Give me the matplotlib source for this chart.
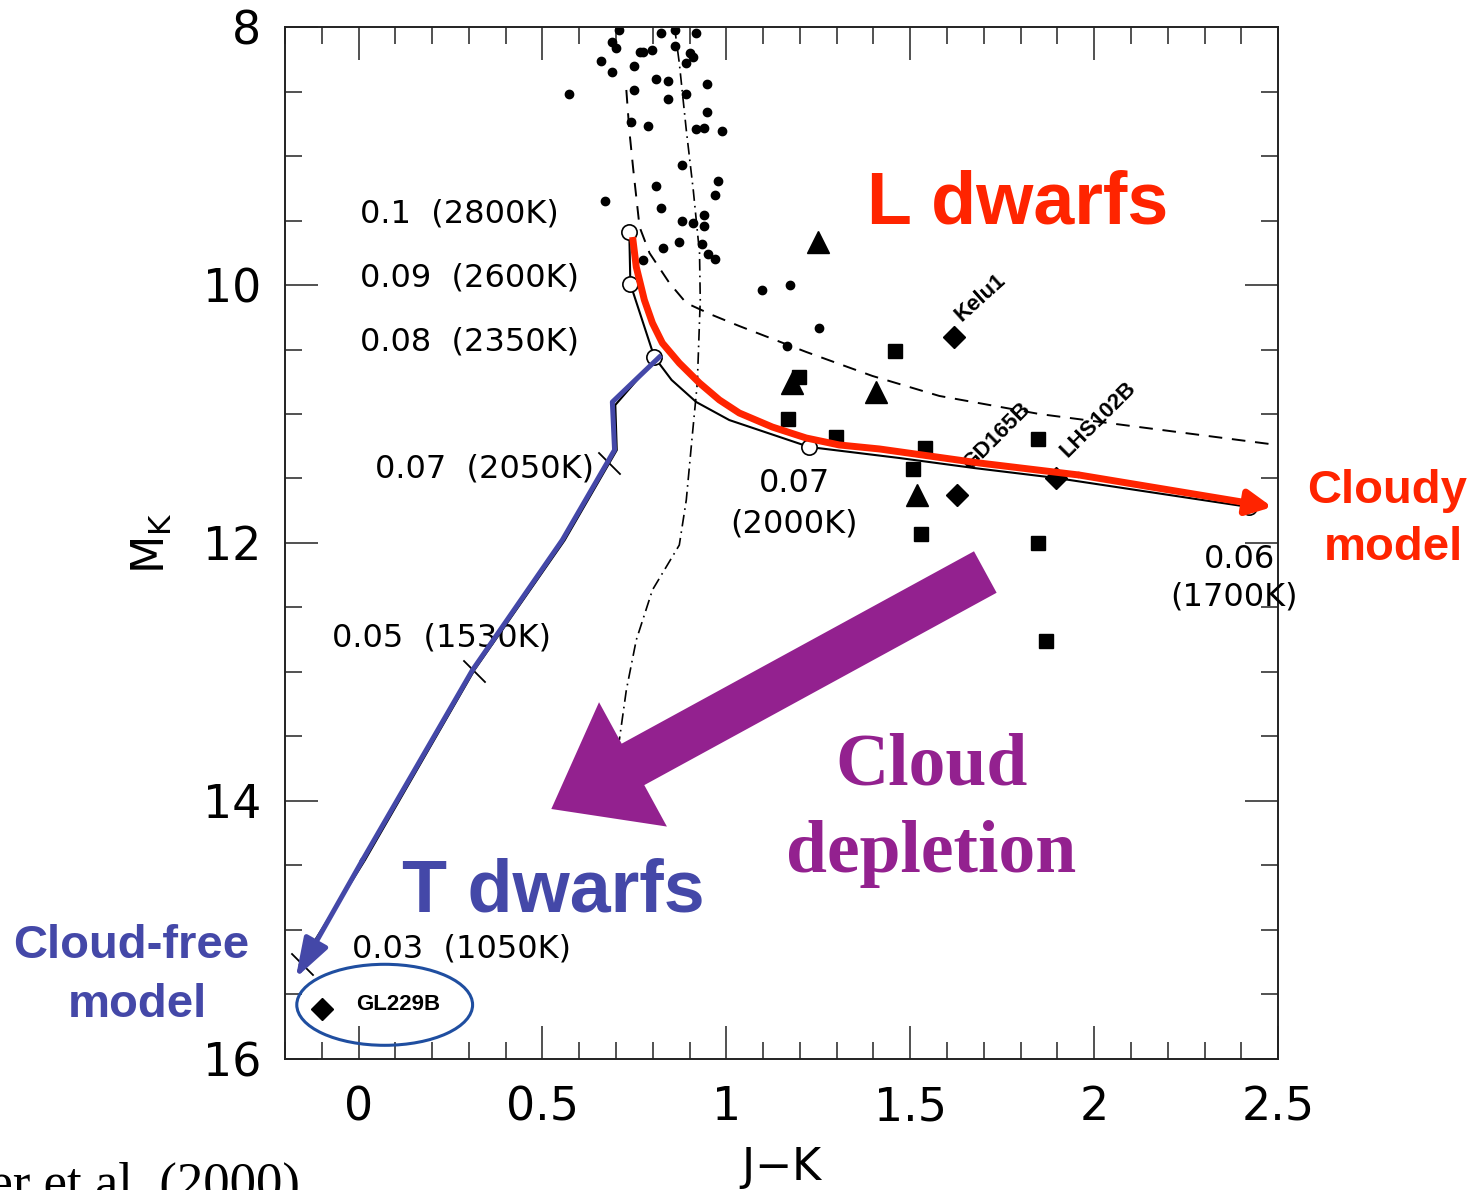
import matplotlib.pyplot as plt
from matplotlib.ticker import MultipleLocator
from matplotlib.patches import Ellipse, FancyArrowPatch

# field M / L dwarfs (small dots)
dot_jk = [0.709, 0.821, 0.859, 0.918, 0.690, 0.701, 0.764, 0.772, 0.799, 0.859,
          0.902, 0.910, 0.660, 0.750, 0.891, 0.690, 0.810, 0.840, 0.948, 0.571,
          0.750, 0.840, 0.891, 0.948, 0.742, 0.788, 0.918, 0.938, 0.989, 0.880,
          0.978, 0.810, 0.970, 0.671, 0.821, 0.880, 0.910, 0.938, 0.940, 0.829,
          0.870, 0.935, 0.772, 0.951, 0.970, 1.098, 1.174, 1.253, 1.166]
dot_mk = [8.02, 8.05, 8.02, 8.05, 8.12, 8.16, 8.19, 8.19, 8.18, 8.15,
          8.20, 8.23, 8.26, 8.30, 8.28, 8.35, 8.40, 8.42, 8.44, 8.52,
          8.49, 8.56, 8.52, 8.66, 8.74, 8.77, 8.79, 8.78, 8.81, 9.07,
          9.19, 9.23, 9.30, 9.35, 9.40, 9.50, 9.52, 9.46, 9.54, 9.71,
          9.67, 9.68, 9.81, 9.76, 9.80, 10.04, 10.00, 10.33, 10.47]

sq_jk = [1.198, 1.459, 1.168, 1.299, 1.541, 1.508, 1.530, 1.848, 1.848, 1.870]
sq_mk = [10.71, 10.51, 11.04, 11.18, 11.26, 11.43, 11.93, 11.19, 12.00, 12.76]

tri_jk = [1.250, 1.179, 1.408, 1.519]
tri_mk = [9.67, 10.76, 10.83, 11.63]

dia_jk = [1.620, 1.628, 1.897, -0.100]
dia_mk = [10.40, 11.63, 11.50, 15.61]

# dusty (cloudy) model track
dusty_jk = [0.736, 0.739, 0.804, 0.851, 0.918, 1.008, 1.226, 1.470, 1.674, 1.897, 2.421]
dusty_mk = [9.589, 9.992, 10.558, 10.736, 10.907, 11.047, 11.256, 11.341, 11.419, 11.496, 11.721]
circ_jk = [0.736, 0.739, 0.804, 1.226, 2.421]
circ_mk = [9.589, 9.992, 10.558, 11.256, 11.721]

# cond (cloud-free) model track
cond_jk = [0.808, 0.698, 0.702, 0.560, 0.316, 0.017, -0.160]
cond_mk = [10.57, 10.93, 11.28, 11.98, 12.98, 14.46, 15.27]
cross_jk = [0.682, 0.313, -0.155]
cross_mk = [11.38, 12.99, 15.26]

dash_jk = [0.728, 0.736, 0.747, 0.764, 0.791, 0.845, 0.891, 0.962, 1.035, 1.217,
           1.397, 1.579, 1.851, 2.122, 2.497]
dash_mk = [8.488, 8.798, 9.109, 9.550, 9.752, 9.984, 10.140, 10.233, 10.318, 10.519,
           10.705, 10.860, 11.000, 11.101, 11.240]

dd_jk = [0.859, 0.872, 0.891, 0.910, 0.927, 0.929, 0.921, 0.908, 0.891, 0.872,
         0.799, 0.755, 0.728, 0.709]
dd_mk = [8.000, 8.279, 8.798, 9.264, 9.752, 10.116, 10.760, 11.147, 11.667, 12.016,
         12.364, 12.752, 13.140, 13.527]

# overlay arrows
red_jk = [0.745, 0.755, 0.777, 0.799, 0.826, 0.872, 0.927, 0.981, 1.035, 1.125,
          1.217, 1.307, 1.416, 1.688, 1.959, 2.484]
red_mk = [9.628, 9.860, 10.116, 10.295, 10.450, 10.605, 10.760, 10.891, 10.992, 11.101,
          11.186, 11.240, 11.271, 11.380, 11.473, 11.721]
blue_jk = [0.818, 0.690, 0.696, 0.554, 0.310, 0.011, -0.171]
blue_mk = [10.558, 10.907, 11.279, 11.977, 12.984, 14.457, 15.372]
purple_tail = (1.704, 12.225)
purple_tip = (0.524, 14.062)

x_ticks = [0, 0.5, 1, 1.5, 2, 2.5]
x_labels = ['0', '0.5', '1', '1.5', '2', '2.5']
y_ticks = [8, 10, 12, 14, 16]
y_labels = ['8', '10', '12', '14', '16']

RED = '#FF2400'
BLUE = '#4448A8'
PURPLE = '#93218F'

plt.rcParams['font.family'] = ['DejaVu Sans']
fig = plt.figure(figsize=(14.76, 11.90), dpi=100)
ax = fig.add_axes([0.1931, 0.1101, 0.6728, 0.8672])
ax.set_xlim(-0.2, 2.5)
ax.set_ylim(16, 8)

ax.set_xticks(x_ticks)
ax.set_xticklabels(x_labels)
ax.set_yticks(y_ticks)
ax.set_yticklabels(y_labels)
ax.xaxis.set_minor_locator(MultipleLocator(0.1))
ax.yaxis.set_minor_locator(MultipleLocator(0.5))
ax.tick_params(which='both', direction='in', top=True, right=True, width=1.1, color='#222222')
ax.tick_params(which='major', length=24, labelsize=33)
ax.tick_params(which='minor', length=12)
ax.tick_params(axis='x', which='major', pad=19)
ax.tick_params(axis='y', which='major', pad=17)
for s in ax.spines.values():
    s.set_linewidth(1.4)
    s.set_color('#222222')

ax.set_xlabel('J$-$K', fontsize=32, va='center')
ax.xaxis.set_label_coords(0.5, -0.106)
ax.set_ylabel(r'M$_{\rm K}$', fontsize=32, va='center')
ax.yaxis.set_label_coords(-0.134, 0.5)

# model tracks
ax.plot(dash_jk, dash_mk, color='k', lw=1.4, ls=(0, (7, 5)))
ax.plot(dd_jk, dd_mk, color='k', lw=1.2, ls=(0, (7, 3, 1, 3)))
ax.plot(dusty_jk, dusty_mk, color='k', lw=1.5)
ax.plot(cond_jk, cond_mk, color='k', lw=1.5)
ax.plot(circ_jk, circ_mk, 'o', ms=11, mfc='white', mec='k', mew=1.2)
ax.plot(cross_jk, cross_mk, ls='none', marker=[(-1, 1), (1, -1)], ms=16, mec='k', mew=1.3)

# observed objects
ax.plot(dot_jk, dot_mk, 'o', color='k', ms=6)
ax.plot(sq_jk, sq_mk, 's', color='k', ms=9.5)
ax.plot(tri_jk, tri_mk, '^', color='k', ms=16)
ax.plot(dia_jk, dia_mk, 'D', color='k', ms=11)

# model labels
lab_kw = dict(fontsize=23, color='k')
ax.text(0.003, 9.515, '0.1  (2800K)', **lab_kw)
ax.text(0.005, 10.008, '0.09  (2600K)', **lab_kw)
ax.text(0.005, 10.504, '0.08  (2350K)', **lab_kw)
ax.text(0.046, 11.496, '0.07  (2050K)', **lab_kw)
ax.text(-0.073, 12.806, '0.05  (1530K)', **lab_kw)
ax.text(-0.019, 15.21, '0.03  (1050K)', **lab_kw)
ax.text(1.185, 11.605, '0.07', ha='center', **lab_kw)
ax.text(1.185, 11.915, '(2000K)', ha='center', **lab_kw)
ax.text(2.395, 12.194, '0.06', ha='center', **lab_kw)
ax.text(2.38, 12.481, '(1700K)', ha='center', **lab_kw)

obj_kw = dict(fontsize=16, fontweight='bold', color='k', rotation_mode='anchor',
              ha='left', va='baseline', family=['Liberation Sans', 'DejaVu Sans'])
ax.text(1.639, 10.287, 'Kelu1', rotation=42, **obj_kw)
ax.text(1.662, 11.44, 'GD165B', rotation=45, **obj_kw)
ax.text(1.927, 11.341, 'LHS102B', rotation=45, **obj_kw)
ax.text(-0.008, 15.62, 'GL229B', fontsize=16, fontweight='bold', color='k',
        family=['Liberation Sans', 'DejaVu Sans'])
ax.add_patch(Ellipse((0.071, 15.58), 0.478, 0.628, fill=False, ec='#1F4EA0', lw=2.2, zorder=6))

# overlays: cloudy / cloud-free arrows
ax.plot(red_jk[:-1], red_mk[:-1], color=RED, lw=5, solid_capstyle='butt', zorder=7, clip_on=False)
ax.annotate('', xy=(red_jk[-1], red_mk[-1]), xytext=(red_jk[-2], red_mk[-2]),
            arrowprops=dict(arrowstyle='-|>,head_length=15,head_width=7.5', mutation_scale=1,
                            color=RED, lw=5, shrinkA=0, shrinkB=0), zorder=7, annotation_clip=False)
ax.plot(blue_jk[:-1], blue_mk[:-1], color=BLUE, lw=3.6, zorder=7)
ax.annotate('', xy=(blue_jk[-1], blue_mk[-1]), xytext=(blue_jk[-2], blue_mk[-2]),
            arrowprops=dict(arrowstyle='-|>,head_length=24,head_width=8', mutation_scale=1,
                            color=BLUE, lw=3.6, shrinkA=0, shrinkB=0), zorder=7)
ax.add_patch(FancyArrowPatch(purple_tail, purple_tip,
                             arrowstyle='simple,head_length=67,head_width=102,tail_width=34',
                             mutation_scale=1, color=PURPLE, lw=0, shrinkA=0, shrinkB=0, zorder=8))

big = dict(family=['Liberation Sans', 'DejaVu Sans'], fontweight='bold', va='baseline')
ax.text(1.383, 9.527, 'L dwarfs', fontsize=53, color=RED, **big)
ax.text(0.117, 14.86, 'T dwarfs', fontsize=53, color=BLUE, **big)
fig.text(0.9397, 0.5773, 'Cloudy', fontsize=34, color=RED, ha='center', **big)
fig.text(0.9438, 0.5294, 'model', fontsize=34, color=RED, ha='center', **big)
fig.text(0.0888, 0.1950, 'Cloud-free', fontsize=34, color=BLUE, ha='center', **big)
fig.text(0.0928, 0.1454, 'model', fontsize=34, color=BLUE, ha='center', **big)

serif = dict(family=['Liberation Serif', 'DejaVu Serif'], fontweight='bold', color=PURPLE,
             ha='center', va='baseline', fontsize=53)
ax.text(1.557, 13.876, 'Cloud', **serif)
ax.text(1.557, 14.550, 'depletion', **serif)

fig.text(0.2033, -0.0076, 'Chabrier et al. (2000)', family=['Liberation Serif', 'DejaVu Serif'],
         fontsize=38, ha='right', va='baseline')

fig.savefig('out.png', dpi=100)
